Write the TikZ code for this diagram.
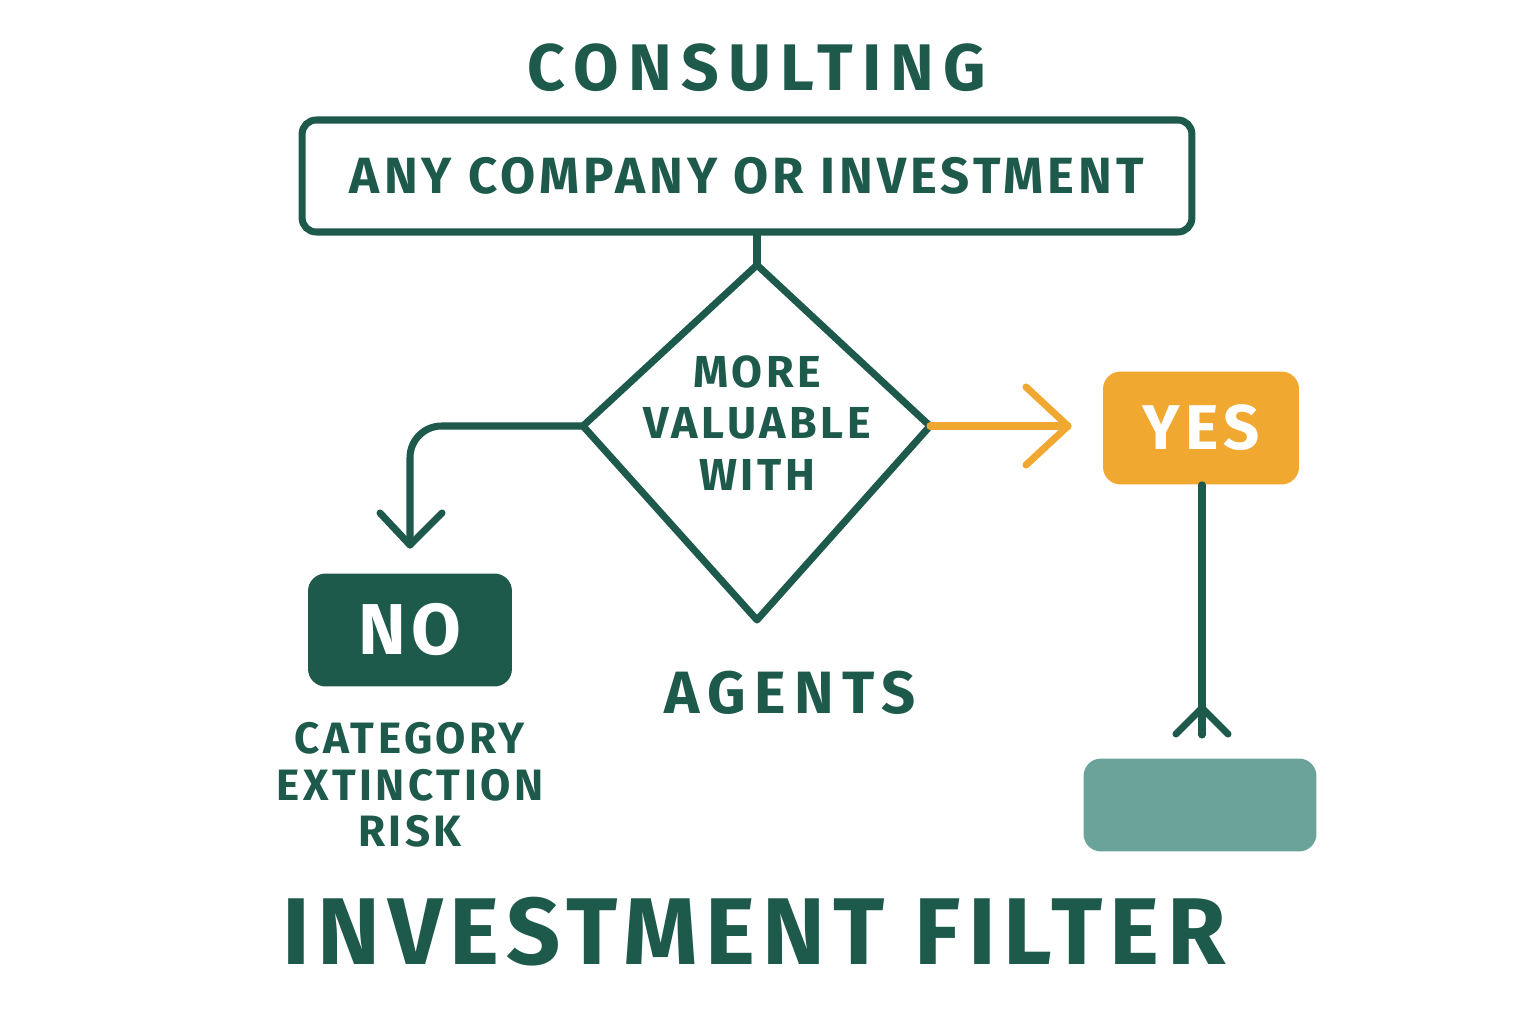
\documentclass[tikz,border=0pt]{standalone}
\usepackage{fontspec}
\setmainfont{Fira Sans}
\newfontfamily\hd[LetterSpace=8]{Fira Sans Bold}
\newfontfamily\hdw[LetterSpace=14]{Fira Sans Bold}
\definecolor{dg}{HTML}{1E5A4C}
\definecolor{og}{HTML}{F0A830}
\definecolor{tl}{HTML}{6BA39A}
\newcommand{\fs}[2]{\fontsize{#1}{#2}\selectfont}
\begin{document}
\begin{tikzpicture}[x=0.02cm,y=-0.02cm,
  ln/.style={line width=4pt,draw=dg,line cap=round,line join=round},
  ol/.style={line width=4pt,draw=og,line cap=round,line join=round},
  txt/.style={text=dg,align=center,inner sep=0pt}]
\useasboundingbox (0,0) rectangle (1536,1024);
\node[txt,font=\hdw\fs{37.5}{37.5}] (title) at (757,68) {CONSULTING};
\node[ln,rounded corners=8,minimum width=17.8cm,minimum height=2.24cm,txt,font=\hd\fs{29}{29}] (box) at (747,176) {ANY COMPANY OR INVESTMENT};
\coordinate (dt) at (757,265);
\coordinate (dl) at (583,426);
\coordinate (dr) at (930,426);
\coordinate (db) at (757,620);
\draw[ln] (box.south -| dt) -- (dt);
\draw[ln] (dt) -- (dr) -- (db) -- (dl) -- cycle;
\node[txt,font=\hd\fs{25.5}{29.5}] (q) at (757,423) {MORE\\VALUABLE\\WITH};
% NO branch
\coordinate (na) at (410,545);
\draw[ln,rounded corners=18] (dl) -- (410,426) -- (na);
\draw[ln] (380,513) -- (na) -- (442,513);
\node[fill=dg,rounded corners=10,minimum width=4.08cm,minimum height=2.26cm,text=white,font=\hd\fs{41}{41},inner sep=0pt] (no) at (410,630) {NO};
\node[txt,font=\hd\fs{25}{26.6}] (cat) at (410,785) {CATEGORY\\EXTINCTION\\RISK};
\node[txt,font=\hdw\fs{34}{34}] (ag) at (790,693) {AGENTS};
% YES branch
\node[fill=og,rounded corners=10,minimum width=3.92cm,minimum height=2.26cm,text=white,font=\hd\fs{36}{36},inner sep=0pt] (yes) at (1201,428) {YES};
\coordinate (ya) at (1068,426);
\draw[ol] (dr) -- (ya);
\draw[ol] (1026,387) -- (ya) -- (1026,465);
\coordinate (ye) at (1202,735);
\draw[ln] (yes.south -| ye) -- (ye);
\draw[ln] (1176,734) -- (1202,708) -- (1228,734);
\node[fill=tl,rounded corners=10,minimum width=4.66cm,minimum height=1.86cm,inner sep=0pt] (res) at (1200,805) {};
\node[txt,font=\hd\fs{54}{54}] (ft) at (754,932) {INVESTMENT FILTER};
\end{tikzpicture}
\end{document}
